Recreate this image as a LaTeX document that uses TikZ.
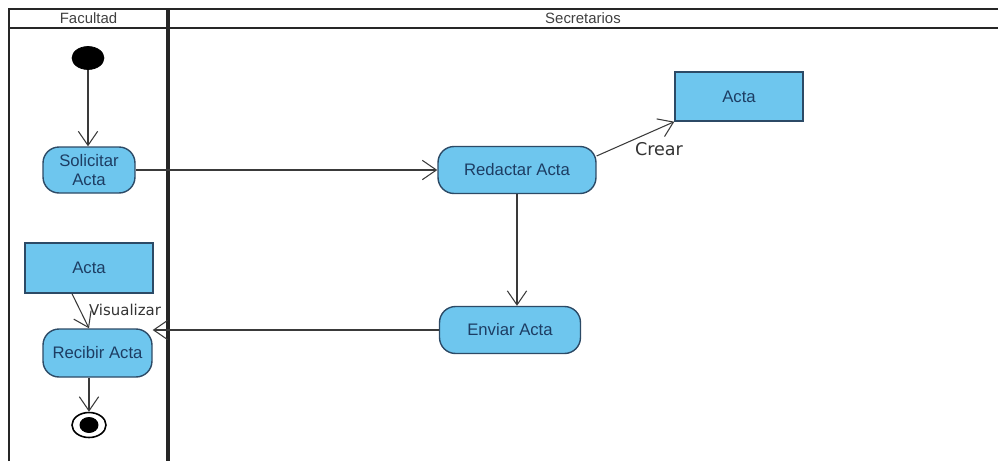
\documentclass[tikz,border=0pt]{standalone}
\usepackage{fontspec}
\setmainfont{Liberation Sans}
\newfontfamily\dejavu{DejaVu Sans}
\usepackage{tikz}
\usetikzlibrary{shapes.geometric, arrows.meta}
\usepackage{xcolor}
\definecolor{actfill}{HTML}{6EC6EE}
\definecolor{actline}{HTML}{2C4A66}
\definecolor{acttext}{HTML}{1D3D63}
\definecolor{wire}{HTML}{3A3A3A}

\begin{document}
\begin{tikzpicture}[x=0.02cm, y=-0.02cm,
    lane/.style={draw=black!85, line width=1.2pt},
    lanehead/.style={text=black!75, font=\fontsize{8.5}{10}\selectfont, inner sep=0pt},
    activity/.style={draw=actline, fill=actfill, line width=0.8pt, rounded corners=0.32cm,
        text=acttext, font=\fontsize{9.5}{11.3}\selectfont, align=center, inner sep=0pt},
    objbox/.style={draw=actline, fill=actfill, line width=0.8pt,
        text=acttext, font=\fontsize{9.5}{11.3}\selectfont, inner sep=0pt},
    flow/.style={draw=wire, line width=0.6pt, -{Straight Barb[length=8pt, width=11pt]}},
    flowlabel/.style={text=black!80, font=\dejavu, inner sep=0pt}]
    \useasboundingbox (0,0) rectangle (998,461);
    % swimlanes
    \draw[lane] (9,461) -- (9,9) -- (998,9);
    \draw[lane] (9,28) -- (998,28);
    \draw[lane, line width=1.8pt] (168,9) -- (168,461);
    \node[lanehead] (facultad) at (88.5,18.5) {Facultad};
    \node[lanehead] (secretarios) at (583,18.5) {Secretarios};
    % nodes
    \node[ellipse, fill=black, draw=black, minimum width=0.64cm, minimum height=0.46cm, inner sep=0pt] (inicio) at (88,58) {};
    \node[activity, minimum width=1.84cm, minimum height=0.92cm] (solicitar) at (89,170) {Solicitar\\Acta};
    \node[activity, minimum width=3.16cm, minimum height=0.94cm] (redactar) at (517,170) {Redactar Acta};
    \node[objbox, minimum width=2.56cm, minimum height=0.98cm] (actaCrear) at (739,96.5) {Acta};
    \node[activity, minimum width=2.82cm, minimum height=0.94cm] (enviar) at (510,330) {Enviar Acta};
    \node[objbox, minimum width=2.56cm, minimum height=1.0cm] (actaVer) at (89,268) {Acta};
    \node[activity, minimum width=2.18cm, minimum height=0.96cm] (recibir) at (97.5,353) {Recibir Acta};
    \node[ellipse, draw=black, line width=0.9pt, minimum width=0.68cm, minimum height=0.5cm, inner sep=0pt] (fin) at (89,425) {};
    \node[ellipse, fill=black, minimum width=0.38cm, minimum height=0.32cm, inner sep=0pt] (finPunto) at (89,425) {};
    % flows
    \draw[flow] (inicio) -- (inicio |- solicitar.north);
    \draw[flow] (solicitar.east) -- (redactar.west);
    \draw[flow] (redactar.10) -- (actaCrear.south west);
    \node[flowlabel, font=\dejavu\fontsize{10}{12}\selectfont] (crear) at (659,149) {Crear};
    \draw[flow] (redactar.south) -- (redactar.south |- enviar.north);
    \draw[flow] (enviar.west) -- (enviar.west -| recibir.east);
    \draw[flow] ([xshift=-0.34cm]actaVer.south) -- (recibir.north -| fin);
    \node[flowlabel, font=\dejavu\fontsize{8.5}{10}\selectfont] (visualizar) at (125,310) {Visualizar};
    \draw[flow] (recibir.south -| fin) -- (fin.north);
\end{tikzpicture}
\end{document}
